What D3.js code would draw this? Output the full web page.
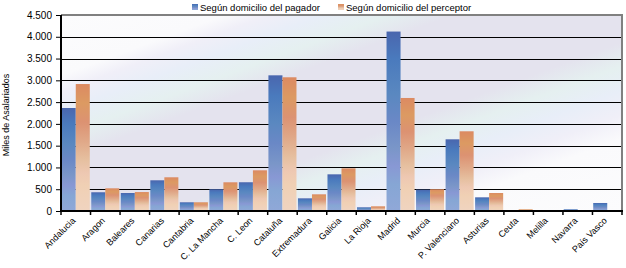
<!DOCTYPE html>
<html>
<head>
<meta charset="utf-8">
<script src="https://cdn.jsdelivr.net/npm/d3@7"></script>
<style>
    body { margin: 0; background: #fff; }
    svg { display: block; font-family: "Liberation Sans", Arial, sans-serif; }
</style>
</head>
<body>
<svg></svg>
<script>
let categories = ["Andalucia", "Aragon", "Baleares", "Canarias", "Cantabria", "C. La Mancha", "C. Leon",
    "Cataluña", "Extremadura", "Galicia", "La Rioja", "Madrid", "Murcia", "P. Valenciano", "Asturias",
    "Ceuta", "Melilla", "Navarra", "País Vasco"];
let pagador = [2365, 430, 413, 705, 200, 500, 660, 3115, 291, 842, 85, 4120, 491, 1646, 314, 15, 15, 39, 184];
let perceptor = [2915, 521, 435, 774, 200, 659, 934, 3070, 383, 980, 108, 2595, 500, 1830, 413, 39, 20, 8, 5];
let seriesNames = ["Según domicilio del pagador", "Según domicilio del perceptor"];
let yTicks = [0, 500, 1000, 1500, 2000, 2500, 3000, 3500, 4000, 4500];
let yTitle = "Miles de Asalariados";

let width = 626;
let height = 268;
let plotLeft = 61, plotRight = 622, plotTop = 15, plotBottom = 211;

let data = [];
for (let i = 0; i < categories.length; i++) {
    data.push({ name: categories[i], values: [pagador[i], perceptor[i]] });
}

let svg = d3.select("svg")
    .attr("width", width)
    .attr("height", height);

let defs = svg.append("defs");

// fondo del area de trazado: bandas diagonales que suben hacia la derecha
let bg = defs.append("linearGradient")
    .attr("id", "bg")
    .attr("gradientUnits", "userSpaceOnUse")
    .attr("x1", plotLeft).attr("y1", plotTop)
    .attr("x2", plotLeft + 131).attr("y2", plotTop + 355);
[[0, "#fcfcfd"], [0.15, "#fafafc"], [0.19, "#f0eff8"], [0.24, "#e8eef8"], [0.3, "#e5f0f0"],
 [0.36, "#e4e3ee"], [0.58, "#e4e3ee"], [0.64, "#e5f0f0"], [0.7, "#e8eef8"], [0.76, "#f0eff8"],
 [0.82, "#fafafc"], [1, "#fcfcfd"]].forEach(function (s) {
    bg.append("stop").attr("offset", s[0]).attr("stop-color", s[1]);
});

// degradados de las barras
let barStops = [
    [[0, "#4a66ae"], [0.15, "#4a7abd"], [0.35, "#5a88c0"], [0.5, "#6a88c6"], [0.65, "#7a96c8"],
     [0.75, "#8898d4"], [0.85, "#86a6d4"], [1, "#90a8d8"]],
    [[0, "#dc8a62"], [0.15, "#dc9a62"], [0.3, "#dc9272"], [0.45, "#e0a888"], [0.6, "#e6c0a0"],
     [0.7, "#eec8b2"], [0.8, "#f0d0b4"], [1, "#f0d4c0"]]
];
barStops.forEach(function (stops, k) {
    let g = defs.append("linearGradient")
        .attr("id", "bar" + k)
        .attr("x1", 0).attr("y1", 0).attr("x2", 0).attr("y2", 1);
    stops.forEach(function (s) {
        g.append("stop").attr("offset", s[0]).attr("stop-color", s[1]);
    });
});

let scaleX = d3.scaleBand()
    .domain(categories)
    .range([plotLeft, plotRight])
    .paddingInner(0.05)
    .paddingOuter(0.025);

let scaleSub = d3.scaleBand()
    .domain([0, 1])
    .range([0, scaleX.bandwidth()]);

let scaleY = d3.scaleLinear()
    .domain([0, 4500])
    .range([plotBottom, plotTop]);

svg.append("rect")
    .attr("x", plotLeft).attr("y", plotTop)
    .attr("width", plotRight - plotLeft).attr("height", plotBottom - plotTop)
    .attr("fill", "url(#bg)");

// lineas de la rejilla
svg.append("g")
    .selectAll("line")
    .data(yTicks.filter(d => d > 0 && d < 4500))
    .enter()
    .append("line")
    .attr("x1", plotLeft).attr("x2", plotRight)
    .attr("y1", d => Math.round(scaleY(d)) + 0.5)
    .attr("y2", d => Math.round(scaleY(d)) + 0.5)
    .attr("stroke", "#000")
    .attr("stroke-width", 1);

// barras
svg.append("g")
    .selectAll("g")
    .data(data)
    .enter()
    .append("g")
    .attr("transform", d => `translate(${scaleX(d.name)},0)`)
    .selectAll("rect")
    .data(d => d.values)
    .enter()
    .append("rect")
    .attr("x", (d, i) => scaleSub(i))
    .attr("width", scaleSub.bandwidth())
    .attr("y", d => scaleY(d))
    .attr("height", d => plotBottom - scaleY(d))
    .attr("fill", (d, i) => `url(#bar${i})`);

// borde superior y derecho
svg.append("path")
    .attr("d", `M${plotLeft},${plotTop} H${plotRight} V${plotBottom}`)
    .attr("fill", "none")
    .attr("stroke", "#808080")
    .attr("stroke-width", 2);

// eje Y
let es = d3.formatLocale({ decimal: ",", thousands: ".", grouping: [3], currency: ["", ""] });
let axisY = d3.axisLeft(scaleY)
    .tickValues(yTicks)
    .tickFormat(es.format(",d"))
    .tickSize(5)
    .tickPadding(4);

let gy = svg.append("g")
    .attr("transform", `translate(${plotLeft},0)`)
    .call(axisY);
gy.select(".domain").remove();
gy.selectAll("line").attr("stroke", "#000");
gy.selectAll("text").attr("font-size", 10).attr("fill", "#000").attr("font-family", null);
svg.append("line")
    .attr("x1", plotLeft).attr("x2", plotLeft)
    .attr("y1", plotTop).attr("y2", plotBottom + 1)
    .attr("stroke", "#000").attr("stroke-width", 2);

// eje X: marcas en los limites de cada categoria
let step = scaleX.step();
let bounds = categories.map(c => scaleX(c) - step * 0.025);
bounds.push(plotRight);
svg.append("line")
    .attr("x1", plotLeft - 1).attr("x2", plotRight + 1)
    .attr("y1", plotBottom).attr("y2", plotBottom)
    .attr("stroke", "#000").attr("stroke-width", 2);
svg.append("g")
    .selectAll("line")
    .data(bounds)
    .enter()
    .append("line")
    .attr("x1", d => d).attr("x2", d => d)
    .attr("y1", plotBottom).attr("y2", plotBottom + 4)
    .attr("stroke", "#000").attr("stroke-width", 1.5);

svg.append("g")
    .selectAll("text")
    .data(categories)
    .enter()
    .append("text")
    .attr("transform", d => `translate(${scaleX(d) + scaleX.bandwidth() / 2 - 2},${plotBottom + 8}) rotate(-45)`)
    .attr("text-anchor", "end")
    .attr("dy", "0.35em")
    .attr("font-size", 9)
    .text(d => d);

// titulo del eje Y
svg.append("text")
    .attr("transform", `translate(9,${(plotTop + plotBottom) / 2 + 2}) rotate(-90)`)
    .attr("text-anchor", "middle")
    .attr("font-size", 9)
    .text(yTitle);

// leyenda
let legendX = [192, 338];
let legend = svg.append("g")
    .selectAll("g")
    .data(seriesNames)
    .enter()
    .append("g")
    .attr("transform", (d, i) => `translate(${legendX[i]},4)`);
legend.append("rect")
    .attr("width", 6).attr("height", 6)
    .attr("fill", (d, i) => `url(#bar${i})`);
legend.append("text")
    .attr("x", 8).attr("y", 6.5)
    .attr("font-size", 9.5)
    .text(d => d);
</script>
</body>
</html>
